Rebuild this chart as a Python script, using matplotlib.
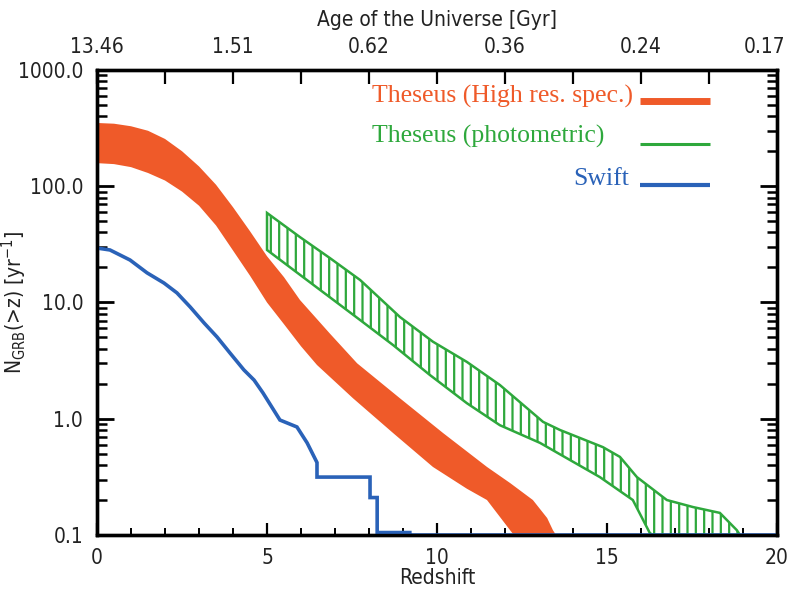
import matplotlib
matplotlib.use('Agg')
import matplotlib.pyplot as plt
import matplotlib.transforms as mtransforms
import numpy as np

# ---- data ----
# Theseus high-res spectroscopy band (upper / lower edges)
hr_z_up = [0.0, 0.5, 1.0, 1.5, 2.0, 2.5, 3.0, 3.5, 4.0, 4.5, 5.0, 5.5, 5.97, 6.85, 7.65, 8.91, 10.18, 11.47, 12.15, 12.82, 13.24, 13.41, 13.5]
hr_up = [350, 345, 328, 300, 255, 200, 148, 103, 66, 41, 25, 16.5, 10.5, 5.4, 3.0, 1.5, 0.753, 0.385, 0.28, 0.20, 0.14, 0.11, 0.1]
hr_z_lo = [0.0, 0.5, 1.0, 1.5, 2.0, 2.5, 3.0, 3.5, 4.0, 4.5, 5.0, 5.5, 6.0, 6.47, 7.53, 8.71, 9.88, 10.88, 11.47, 12.15, 12.26]
hr_lo = [158, 155, 146, 130, 112, 90, 68, 46, 28, 17, 10, 6.5, 4.2, 2.9, 1.5, 0.753, 0.385, 0.25, 0.20, 0.11, 0.1]

# Theseus photometric band
ph_z_up = [5.0, 5.97, 6.85, 7.74, 8.91, 9.88, 10.88, 11.85, 13.12, 13.62, 14.88, 15.38, 15.88, 16.76, 17.53, 18.32, 18.82, 18.91]
ph_up = [58.9, 36.5, 24.1, 15.6, 7.5, 4.6, 3.08, 1.95, 0.94, 0.80, 0.57, 0.47, 0.315, 0.20, 0.174, 0.155, 0.11, 0.1]
ph_z_lo = [5.0, 5.97, 6.76, 7.74, 8.71, 9.79, 10.88, 11.85, 13.03, 14.79, 15.76, 16.26, 16.35]
ph_lo = [28.3, 17.3, 11.6, 7.06, 4.3, 2.38, 1.36, 0.88, 0.62, 0.315, 0.20, 0.104, 0.1]

# Swift cumulative rate
sw_z = [0.0, 0.38, 0.97, 1.47, 1.97, 2.35, 2.74, 3.15, 3.53, 3.91, 4.32, 4.62, 4.88, 5.38, 5.88, 6.18, 6.47,
        6.47, 8.03, 8.03, 8.24, 8.24, 9.2, 9.2, 20.0]
sw = [29.4, 28.3, 23.2, 18.0, 14.7, 12.1, 9.15, 6.66, 5.05, 3.68, 2.63, 2.15, 1.67, 0.975, 0.85, 0.62, 0.42,
      0.315, 0.315, 0.21, 0.21, 0.105, 0.105, 0.1, 0.1]

top_ticks = [0, 4, 8, 12, 16, 20]
top_labels = ['13.46', '1.51', '0.62', '0.36', '0.24', '0.17']
y_ticks = [0.1, 1, 10, 100, 1000]
y_labels = ['0.1', '1.0', '10.0', '100.0', '1000.0']

c_hr = '#EF5A29'
c_ph = '#2EA83C'
c_sw = '#2A62B8'
c_txt = '#222222'

plt.rcParams['font.family'] = ['DejaVu Sans Condensed', 'DejaVu Sans']
plt.rcParams['font.stretch'] = 'condensed'
plt.rcParams['mathtext.fontset'] = 'custom'
plt.rcParams['mathtext.rm'] = 'DejaVu Sans:stretch=condensed'
plt.rcParams['hatch.linewidth'] = 1.6

fig = plt.figure(figsize=(7.96, 5.94), dpi=100)
ax = fig.add_axes([0.1219, 0.0993, 0.8542, 0.7829])

# orange band: polygon from both edges
poly_z = list(hr_z_up) + list(hr_z_lo[::-1])
poly_v = list(hr_up) + list(hr_lo[::-1])
ax.fill(poly_z, poly_v, color=c_hr, lw=0, zorder=2)

# green hatched band
pz = list(ph_z_up) + list(ph_z_lo[::-1])
pv = list(ph_up) + list(ph_lo[::-1])
ax.fill(pz, pv, facecolor='none', edgecolor=c_ph, hatch='||', lw=1.8, zorder=3)

ax.plot(sw_z, sw, color=c_sw, lw=2.6, zorder=4, solid_joinstyle='miter')

ax.set_yscale('log')
ax.set_xlim(0, 20)
ax.set_ylim(0.1, 1000)
ax.set_yticks(y_ticks)
ax.set_yticklabels(y_labels)
ax.set_xticks([0, 5, 10, 15, 20])
ax.set_xticks(np.arange(0, 21, 1), minor=True)
ax.tick_params(axis='both', which='both', direction='in', top=False, right=True, colors='black', labelcolor=c_txt)
ax.tick_params(axis='y', which='major', length=12, width=2, labelsize=15, pad=10)
ax.tick_params(axis='y', which='minor', length=7, width=1.8)
ax.tick_params(axis='x', which='major', length=9, width=1.6, labelsize=15, pad=9)
ax.tick_params(axis='x', which='minor', length=5, width=1.4)
for s in ax.spines.values():
    s.set_linewidth(2.4)

ax.set_xlabel('Redshift', fontsize=15, color=c_txt, labelpad=0)
ax.set_ylabel(r'N$_{\mathrm{GRB}}$(>z) [yr$^{-1}$]', fontsize=15, color=c_txt)
ax.yaxis.set_label_coords(-0.10, 0.5)

# top axis: age of the universe
ax2 = ax.twiny()
ax2.set_xlim(0, 20)
ax2.set_xticks(np.arange(0, 21, 2))
ax2.set_xticklabels([top_labels[top_ticks.index(t)] if t in top_ticks else '' for t in range(0, 21, 2)])
ax2.tick_params(axis='x', direction='in', length=10, width=1.6, labelsize=15, pad=9, labelcolor=c_txt)
ax2.set_xlabel('Age of the Universe [Gyr]', fontsize=15, color=c_txt, labelpad=8)
for s in ax2.spines.values():
    s.set_linewidth(2.4)
# last label sits a little inside the figure edge
last = ax2.get_xticklabels()[-1]
last.set_transform(last.get_transform() + mtransforms.ScaledTranslation(-0.12, 0, fig.dpi_scale_trans))

# legend drawn as coloured text with line samples
tr = ax.transAxes
serif = ['Liberation Serif', 'DejaVu Serif']
kw = dict(fontsize=18.5, family=serif, stretch='normal', ha='left', va='center', transform=tr)
ax.text(0.404, 0.942, 'Theseus (High res. spec.)', color=c_hr, **kw)
ax.text(0.405, 0.856, 'Theseus (photometric)', color=c_ph, **kw)
ax.text(0.700, 0.765, 'Swift', color=c_sw, **kw)
ax.plot([0.799, 0.901], [0.933, 0.933], color=c_hr, lw=5, transform=tr, solid_capstyle='butt')
ax.plot([0.799, 0.901], [0.841, 0.841], color=c_ph, lw=2.2, transform=tr, solid_capstyle='butt')
ax.plot([0.799, 0.901], [0.752, 0.752], color=c_sw, lw=3, transform=tr, solid_capstyle='butt')

fig.savefig('out.png', dpi=100)
